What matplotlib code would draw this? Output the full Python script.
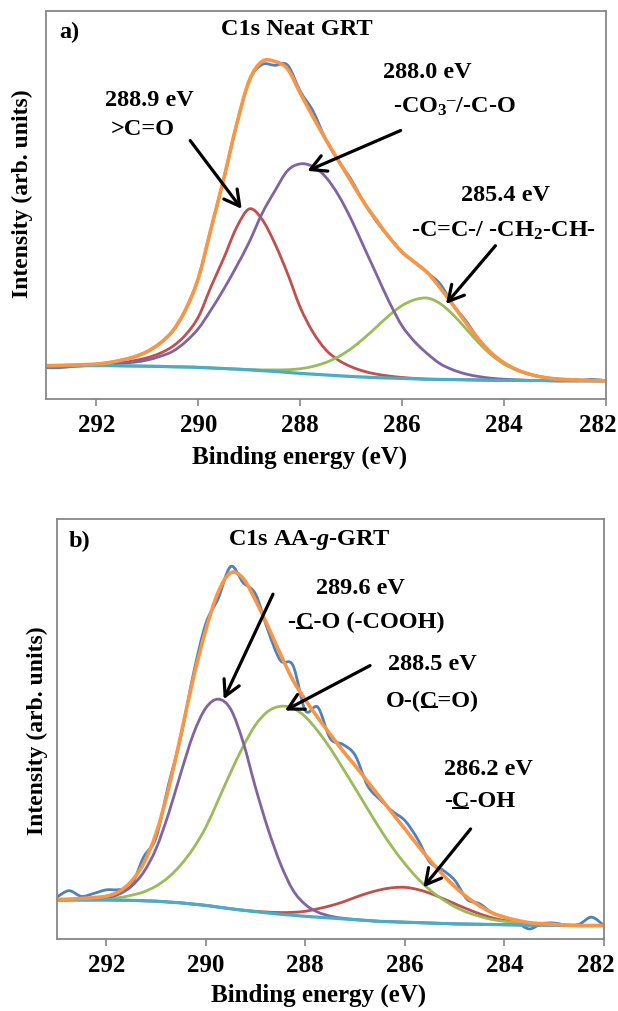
import numpy as np
import matplotlib
matplotlib.use("Agg")
import matplotlib.pyplot as plt
import matplotlib.transforms as mtransforms
from matplotlib.lines import Line2D
from matplotlib.path import Path
from matplotlib.patches import PathPatch

plt.rcParams['font.family'] = ['Liberation Serif', 'DejaVu Serif']
plt.rcParams['font.weight'] = 'bold'
plt.rcParams['axes.labelweight'] = 'bold'
plt.rcParams['mathtext.fontset'] = 'custom'
plt.rcParams['mathtext.default'] = 'regular'
plt.rcParams['mathtext.rm'] = 'Liberation Serif:bold'
plt.rcParams['mathtext.bf'] = 'Liberation Serif:bold'
plt.rcParams['mathtext.it'] = 'Liberation Serif:italic:bold'

# binding energy grid, 293 -> 282 eV in 0.25 eV steps
E = np.linspace(293, 282, 45)

# ---- panel a: C1s Neat GRT (rows = one eV each, 4 values) ----
bg_a = [8.6, 8.6, 8.6, 8.6,
        8.6, 8.6, 8.55, 8.5,
        8.45, 8.4, 8.3, 8.25,
        8.15, 8.0, 7.85, 7.7,
        7.5, 7.3, 7.1, 6.85,
        6.6, 6.4, 6.2, 6.0,
        5.8, 5.65, 5.5, 5.4,
        5.3, 5.2, 5.1, 5.05,
        5.0, 4.95, 4.9, 4.85,
        4.8, 4.8, 4.75, 4.75,
        4.7, 4.7, 4.7, 4.7,
        4.7]
red_a = [0, 0, 0.05, 0.1,
         0.2, 0.4, 0.8, 1.4,
         2.2, 3.4, 5.3, 8.3,
         13.0, 21.0, 28.5, 36.5,
         41.5, 39.0, 33.0, 25.5,
         17.0, 10.8, 6.5, 4.0,
         2.5, 1.5, 0.9, 0.5,
         0.25, 0.1, 0, 0,
         0, 0, 0, 0,
         0, 0, 0, 0,
         0, 0, 0, 0,
         0]
purple_a = [0, 0.05, 0.1, 0.15,
            0.2, 0.4, 0.7, 1.0,
            1.6, 2.6, 4.0, 6.5,
            10.0, 15.0, 20.5, 26.5,
            33.0, 40.5, 46.5, 52.0,
            54.0, 53.5, 51.0, 46.5,
            40.5, 33.5, 26.5, 19.5,
            13.5, 9.5, 6.5, 4.0,
            2.5, 1.5, 0.9, 0.5,
            0.3, 0.15, 0.05, 0,
            0, 0, 0, 0,
            0]
green_a = [0, 0, 0, 0,
           0, 0, 0, 0,
           0, 0, 0, 0,
           0, 0, 0, 0,
           0.1, 0.2, 0.4, 0.7,
           1.2, 2.0, 3.2, 4.9,
           7.2, 10.0, 13.1, 16.2,
           18.8, 20.4, 20.9, 19.5,
           16.7, 13.2, 9.6, 6.5,
           4.2, 2.6, 1.6, 0.9,
           0.5, 0.3, 0.15, 0.05,
           0]
# raw spectrum minus fit envelope
resid_a = [-0.5, -0.6, -0.4, -0.3,
           0, 0, 0, 0,
           0, 0, 0, 0,
           0, 0, 0, 0,
           0, -0.8, -1.0, 1.0,
           0.5, 1.5, 0, 0,
           0.5, 0, -0.3, 0,
           0, 0, 0, 1.0,
           0, 0.5, 0, 0,
           0, 0, 0, 0,
           0, 0, 0, 0.3,
           0]

# ---- panel b: C1s AA-g-GRT ----
bg_b = [9.3, 9.3, 9.3, 9.3,
        9.3, 9.25, 9.2, 9.1,
        9.0, 8.8, 8.6, 8.3,
        8.0, 7.6, 7.2, 6.85,
        6.5, 6.2, 5.9, 5.65,
        5.4, 5.2, 5.0, 4.8,
        4.6, 4.4, 4.2, 4.1,
        4.0, 3.9, 3.8, 3.7,
        3.6, 3.55, 3.5, 3.45,
        3.4, 3.35, 3.3, 3.3,
        3.3, 3.25, 3.2, 3.2,
        3.2]
purple_b = [0, 0.05, 0.15, 0.3,
            0.6, 1.4, 3.3, 6.8,
            12.5, 21.0, 31.0, 40.5,
            47.0, 49.5, 47.5, 40.0,
            29.5, 20.0, 12.0, 6.0,
            2.8, 1.2, 0.45, 0.15,
            0.05, 0, 0, 0,
            0, 0, 0, 0,
            0, 0, 0, 0,
            0, 0, 0, 0,
            0, 0, 0, 0,
            0]
green_b = [0.1, 0.15, 0.2, 0.25,
           0.3, 0.6, 1.2, 2.1,
           3.6, 5.9, 9.1, 13.3,
           18.6, 25.5, 32.5, 39.0,
           44.5, 48.0, 49.5, 49.3,
           47.5, 44.3, 40.4, 35.9,
           31.3, 26.6, 22.0, 17.7,
           13.9, 10.6, 7.9, 5.8,
           4.1, 2.8, 1.9, 1.2,
           0.8, 0.5, 0.3, 0.2,
           0.1, 0.05, 0, 0,
           0]
red_b = [0, 0, 0, 0,
         0, 0, 0, 0,
         0, 0, 0, 0,
         0, 0, 0, 0,
         0.1, 0.2, 0.4, 0.7,
         1.2, 2.0, 2.9, 4.0,
         5.3, 6.5, 7.5, 8.1,
         8.3, 7.9, 7.1, 6.0,
         4.8, 3.6, 2.5, 1.6,
         1.0, 0.6, 0.3, 0.15,
         0.1, 0, 0, 0,
         0]
resid_b = [0.5, 2.0, 0.5, 1.0,
           1.5, 0.5, -1.0, 1.5,
           -1.0, 1.0, -0.5, 1.0,
           1.5, -1.5, 1.5, -1.0,
           1.5, -1.0, -1.5, 3.5,
           -2.5, 2.5, -1.0, 1.5,
           2.5, -1.0, -0.5, 0.5,
           2.0, 1.5, -0.5, 1.0,
           1.5, -0.5, 0.5, 0,
           0, -0.5, -1.5, 0,
           0.3, 0, 0.3, 2.0,
           0]

xticks = [292, 290, 288, 286, 284, 282]

# labels: (text, energy, intensity, index of underlined char or None)
labels_a = [("288.9 eV", 290.96, 77.1, None),
            (">C=O", 291.09, 69.6, None),
            ("288.0 eV", 285.50, 84.4, None),
            ("-CO$_3{}^{\u2013}$/-C-O", 284.98, 75.6, None),
            ("285.4 eV", 283.97, 52.6, None),
            ("-C=C-/ -CH$_2$-CH-", 284.01, 43.6, None)]
arrows_a = [((290.16, 66.6), (289.15, 49.0)),
            ((286.03, 69.2), (287.86, 58.8)),
            ((284.17, 39.5), (285.14, 24.5))]
labels_b = [("289.6 eV", 286.89, 83.8, None),
            ("-C-O (-COOH)", 286.78, 75.7, 1),
            ("288.5 eV", 285.45, 65.5, None),
            ("O-(C=O)", 285.45, 56.9, 3),
            ("286.2 eV", 284.32, 40.5, None),
            ("-C-OH", 284.50, 32.9, 1)]
arrows_b = [((288.65, 82.1), (289.64, 57.1)),
            ((286.70, 65.1), (288.41, 54.4)),
            ((284.68, 26.2), (285.63, 12.3))]

BLUE, RED, GREEN = '#4F81BD', '#C0504D', '#9BBB59'
PURPLE, AQUA, ORANGE = '#8064A2', '#4BACC6', '#F79646'
FS = 17.5

fig = plt.figure(figsize=(6.18, 10.12), dpi=100)
ax_a = fig.add_axes([45.5 / 618, 612 / 1012, 560.5 / 618, 388 / 1012])
ax_b = fig.add_axes([56.5 / 618, 72 / 1012, 547.5 / 618, 420 / 1012])

underlined = []


def smooth_line(ax, x, y, color, lw):
    # smoothed line through the data points (like a spreadsheet "smoothed line")
    P = np.column_stack([x, y])
    n = len(P)
    verts, codes = [P[0]], [Path.MOVETO]
    for i in range(n - 1):
        p0 = P[i - 1] if i > 0 else P[i]
        p3 = P[i + 2] if i + 2 < n else P[i + 1]
        verts += [P[i] + (P[i + 1] - p0) / 6, P[i + 1] - (p3 - P[i]) / 6, P[i + 1]]
        codes += [Path.CURVE4] * 3
    ax.add_patch(PathPatch(Path(verts, codes), fill=False, edgecolor=color,
                           lw=lw, joinstyle='round', capstyle='round'))


def draw_panel(ax, bg, red, purple, green, resid, tag, title, labels, arrows,
               xlab_pos, ylab_pos):
    bg = np.array(bg)
    env = bg + np.array(red) + np.array(purple) + np.array(green)
    smooth_line(ax, E, env + np.array(resid), BLUE, 2.0)
    smooth_line(ax, E, bg + np.array(red), RED, 2.0)
    smooth_line(ax, E, bg + np.array(green), GREEN, 2.0)
    smooth_line(ax, E, bg + np.array(purple), PURPLE, 2.0)
    smooth_line(ax, E, bg, AQUA, 2.3)
    smooth_line(ax, E, env, ORANGE, 2.6)

    ax.set_xlim(293, 282)
    ax.set_ylim(0, 100)
    ax.set_xticks(xticks)
    ax.set_yticks([])
    ax.tick_params(axis='x', direction='out', length=5, width=1.2,
                   color='#878787', pad=5, labelsize=18)
    for sp in ax.spines.values():
        sp.set_color('#878787')
        sp.set_linewidth(1.3)
    # last label pulled in so it stays inside the figure
    last = ax.get_xticklabels()[-1]
    last.set_transform(last.get_transform() +
                       mtransforms.ScaledTranslation(-0.08, 0, fig.dpi_scale_trans))

    ax.set_xlabel("Binding energy (eV)", fontsize=18)
    ax.xaxis.label.set(va='center')
    ax.xaxis.set_label_coords(*xlab_pos)
    ax.set_ylabel("Intensity (arb. units)", fontsize=17)
    ax.yaxis.label.set(va='center', ha='center')
    ax.yaxis.set_label_coords(*ylab_pos)

    ax.text(tag[1], tag[2], tag[0], fontsize=FS, ha='center', va='center')
    ax.text(title[1], title[2], title[0], fontsize=FS, ha='center', va='center')
    for s, x, y, ul in labels:
        t = ax.text(x, y, s, fontsize=FS, ha='center', va='center')
        if ul is not None:
            underlined.append((ax, t, s, ul))
    for tail, head in arrows:
        ax.annotate('', xy=head, xytext=tail,
                    arrowprops=dict(arrowstyle='->, head_length=0.55, head_width=0.3',
                                    lw=2.3, color='black', mutation_scale=20,
                                    shrinkA=0, shrinkB=0))


draw_panel(ax_a, bg_a, red_a, purple_a, green_a, resid_a,
           ("a)", 292.53, 94.6), ("C1s Neat GRT", 288.06, 95.4),
           labels_a, arrows_a, (0.454, -0.147), (-0.042, 0.532))
draw_panel(ax_b, bg_b, red_b, purple_b, green_b, resid_b,
           ("b)", 292.54, 94.8), ("C1s AA-$\\mathit{g}$-GRT", 287.92, 95.2),
           labels_b, arrows_b, (0.478, -0.131), (-0.035, 0.498))

# underline the marked carbon atoms
fig.canvas.draw()
renderer = fig.canvas.get_renderer()


def text_width(ax, s):
    tmp = ax.text(0, 0, s, fontsize=FS)
    w = tmp.get_window_extent(renderer).width
    tmp.remove()
    return w


inv = fig.transFigure.inverted()
for ax, t, s, ul in underlined:
    bb = t.get_window_extent(renderer)
    x0 = bb.x0 + text_width(ax, s[:ul])
    x1 = bb.x0 + text_width(ax, s[:ul + 1])
    yl = bb.y0 + 0.13 * FS * 100 / 72
    p0 = inv.transform((x0 + 1, yl))
    p1 = inv.transform((x1 - 1, yl))
    fig.add_artist(Line2D([p0[0], p1[0]], [p0[1], p1[1]], color='black', lw=1.4))

fig.savefig("out.png", dpi=100)
